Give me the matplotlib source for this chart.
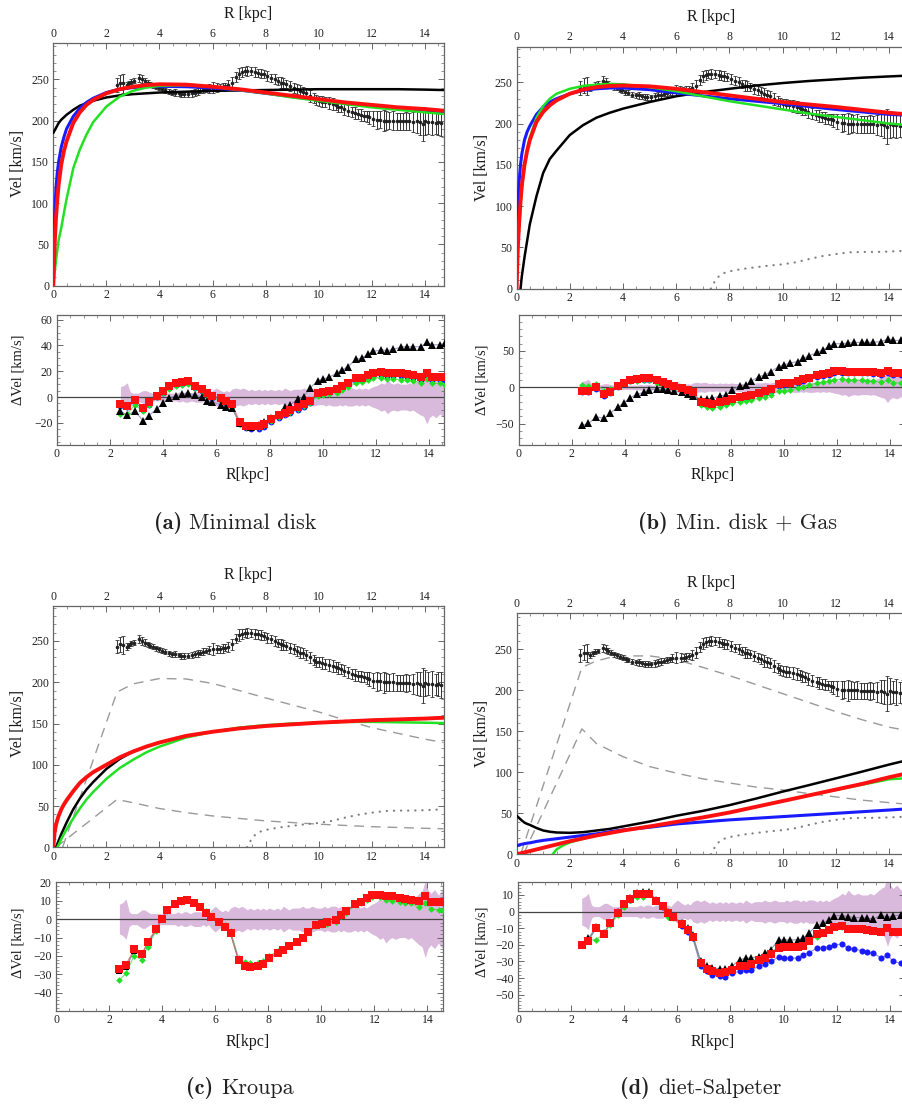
import numpy as np
import matplotlib
matplotlib.use("Agg")
import matplotlib.pyplot as plt
from matplotlib.ticker import MultipleLocator

nan = np.nan

# ---------------- observed rotation curve (R [kpc], V [km/s], error) ----------------
R_obs = [2.39, 2.52, 2.64, 2.76, 2.85, 2.94, 3.05, 3.24, 3.35, 3.45,
         3.56, 3.66, 3.77, 3.88, 3.98, 4.09, 4.20, 4.34, 4.48, 4.60,
         4.72, 4.82, 4.92, 5.06, 5.21, 5.32, 5.44, 5.54, 5.65, 5.75,
         5.85, 6.00, 6.16, 6.27, 6.38, 6.48, 6.58, 6.73, 6.88, 7.00,
         7.12, 7.21, 7.31, 7.45, 7.60, 7.70, 7.81, 7.92, 8.04, 8.20,
         8.35, 8.46, 8.57, 8.67, 8.78, 8.92, 9.07, 9.18, 9.30, 9.40,
         9.51, 9.66, 9.82, 9.91, 10.01, 10.12, 10.23, 10.38, 10.54, 10.64,
         10.74, 10.84, 10.95, 11.11, 11.27, 11.37, 11.48, 11.60, 11.71, 11.80,
         11.90, 12.05, 12.21, 12.32, 12.44, 12.55, 12.66, 12.80, 12.95, 13.05,
         13.16, 13.27, 13.39, 13.54, 13.69, 13.80, 13.92, 14.02, 14.13, 14.27,
         14.42, 14.51, 14.60]
V_obs = [243, 246, 245, 243, 245, 247, 248, 252, 250, 248,
         246, 244, 243, 241, 240, 238, 237, 235, 234, 234,
         233, 232, 232, 232, 233, 234, 235, 236, 237, 238,
         239, 240, 240, 240, 241, 242, 243, 246, 253, 257,
         259, 260, 260, 260, 259, 258, 257, 256, 254, 252,
         250, 248, 246, 245, 244, 242, 240, 238, 236, 235,
         233, 230, 227, 225, 224, 223, 222, 221, 220, 219,
         217, 216, 214, 212, 210, 209, 208, 207, 206, 205,
         204, 202, 201, 201, 200, 200, 200, 200, 199, 199,
         199, 199, 199, 198, 199, 198, 196, 199, 198, 198,
         197, 198, 197]
dV_obs = [8, 9, 11, 4, 3, 3, 3, 5, 5, 4,
          3, 3, 3, 3, 3, 3, 3, 3, 3, 4,
          3, 4, 4, 3, 4, 4, 4, 3, 4, 3,
          5, 7, 5, 4, 5, 4, 6, 7, 6, 7,
          6, 5, 6, 5, 6, 5, 6, 5, 6, 5,
          6, 5, 7, 6, 5, 6, 6, 6, 7, 6,
          6, 7, 6, 6, 6, 7, 6, 7, 7, 6,
          7, 6, 7, 7, 6, 7, 6, 7, 6, 7,
          8, 9, 11, 10, 13, 11, 10, 11, 10, 10,
          10, 11, 10, 12, 14, 15, 21, 16, 14, 16,
          13, 15, 16]

# ---------------- radii of the residual points ----------------
R_res = [2.39, 2.64, 2.94, 3.24, 3.45, 3.77, 3.98, 4.20, 4.48, 4.72,
         4.92, 5.21, 5.44, 5.65, 5.85, 6.16, 6.38, 6.58, 6.88, 7.12,
         7.31, 7.60, 7.81, 8.04, 8.35, 8.57, 8.78, 9.07, 9.30, 9.51,
         9.82, 10.01, 10.23, 10.54, 10.74, 10.95, 11.27, 11.48, 11.71, 11.90,
         12.21, 12.44, 12.66, 12.95, 13.16, 13.39, 13.69, 13.92, 14.13, 14.42,
         14.60]

# ---------------- fitted halo curves ----------------
R_fit = [0, 0.05, 0.1, 0.15, 0.2, 0.3, 0.4, 0.5, 0.75, 1.0,
         1.25, 1.5, 2.0, 2.5, 3.0, 3.5, 4.0, 5.0, 6.0, 7.0,
         8.0, 9.0, 10.0, 11.0, 12.0, 13.0, 14.0, 14.7]

# (a) minimal disk
vel_a_black = [185, 188, 191, 194, 197, 201, 204, 207, 213, 218,
               221, 224, 228, 230.5, 232, 233, 234, 235, 236, 236.5,
               237, 237.5, 238, 238, 238, 238, 237.5, 237]
vel_a_blue = [0, 85, 118, 137, 150, 168, 180, 190, 205, 215,
              222, 227, 234, 238, 240, 241, 241.5, 241, 239.5, 237,
              233, 229, 225, 221, 218, 215, 212, 211]
vel_a_green = [0, 16, 30, 43, 55, 70, 88, 105, 142, 165,
               183, 198, 217, 229, 236, 240, 242, 243, 241, 237,
               233, 228, 224, 220, 216, 213, 210, 208]
vel_a_red = [0, 50, 82, 104, 122, 147, 163, 175, 197, 210,
             219, 225, 233, 238, 241, 243, 244, 243.5, 241, 238,
             234, 230, 226, 222, 219, 216, 214, 212]

# (b) minimal disk + gas
vel_b_black = [nan, nan, nan, 0, 15, 38, 58, 78, 112, 140,
               157, 167, 186, 198, 207, 213, 218, 226, 233, 238,
               242, 246, 249, 251.5, 253.5, 255.5, 257, 258]
vel_b_blue = [0, 105, 130, 150, 163, 180, 190, 197, 211, 220,
              226, 230, 236, 240, 242, 243, 243, 241, 237, 233.5,
              230, 227, 224, 220.5, 217, 214, 211, 210]
vel_b_green = [0, 45, 75, 100, 120, 148, 168, 183, 207, 221,
               230, 236, 242, 245.5, 247, 248, 247.5, 244, 239, 233,
               227, 222, 217, 212, 208, 204, 200, 198]
vel_b_red = [0, 50, 80, 105, 125, 150, 167, 180, 202, 214,
             222, 228, 236, 241, 244, 245.5, 246, 245, 242, 238,
             234, 230, 226, 223, 220, 216.5, 213, 211]

# (c) Kroupa
vel_c_black = [nan, nan, 0, 4, 8, 16, 23, 30, 46, 59,
               70, 79, 95, 107, 116, 122, 127, 135, 140, 144,
               147, 149, 151, 152.5, 154, 155, 156, 157]
vel_c_green = [nan, nan, nan, 0, 3, 10, 16, 22, 35, 47,
               58, 67, 83, 96, 106, 115, 122, 133, 140, 145,
               148, 150, 151, 152, 152, 151.5, 151, 150.5]
vel_c_red = [0, 18, 27, 33, 38, 46, 52, 57, 68, 78,
             85, 91, 100, 109, 116, 122, 127, 135, 140, 144,
             147, 149, 151, 152.5, 154, 155, 156, 157]

# (d) diet-Salpeter
vel_d_black = [47, 45.5, 44, 42.5, 41, 38.5, 37, 35.8, 32, 29,
               27.5, 26.6, 26.2, 27, 29, 31, 34, 40, 47, 53,
               60, 68, 76.5, 84.5, 92.7, 101, 109.5, 115]
vel_d_blue = [10.6, 11, 11.5, 12, 12.3, 13, 13.6, 14, 15.7, 17,
              18, 19, 21, 23, 25, 27.5, 29.7, 33, 37, 39.5,
              42, 44, 46, 48, 50, 52, 54, 55.5]
vel_d_red = [0, 0.4, 0.8, 1.2, 1.6, 2.4, 3.2, 4, 6, 8,
             10, 12, 16, 19.5, 23, 26, 29, 34, 39.5, 45,
             51, 58, 65, 72, 79, 86, 94, 99]
R_d_green = [1.35, 1.5, 1.75, 2.0, 2.5, 3.0, 3.5, 4.0, 5.0, 6.0,
             7.0, 8.0, 9.0, 10.0, 11.0, 12.0, 13.0, 14.0, 14.7]
vel_d_green = [0, 6, 11, 14.5, 19, 23, 26, 29, 34, 39.5,
               45, 51, 58, 65, 72, 78.5, 85, 91.5, 93]

# ---------------- baryonic components ----------------
R_gas = [7.30, 7.45, 7.6, 7.8, 8.0, 8.5, 9.0, 9.5, 10.0, 10.5,
         11.0, 11.5, 12.0, 12.5, 13.0, 13.5, 14.0, 14.7]
V_gas = [0, 9, 15, 19, 21, 24, 26, 28, 29.5, 32,
         36, 39.5, 42, 44, 44.5, 44.5, 45, 46]

R_c_disk = [0.35, 2.4, 3.0, 4.0, 5.0, 6.0, 7.0, 8.0, 9.0, 10.0, 11.0, 12.0, 13.0, 14.0, 14.7]
V_c_disk = [0, 188, 198, 204.5, 204, 198.5, 190, 181, 172.5, 164, 154, 145, 138, 131, 127]
R_c_bulge = [0.1, 2.4, 3.0, 4.0, 5.0, 6.0, 7.0, 8.0, 9.0, 10.0, 11.0, 12.0, 13.0, 14.0, 14.7]
V_c_bulge = [0, 58, 54, 47, 42, 38, 35, 32, 30, 28, 26.5, 25, 24, 23, 22.5]

R_d_disk = [0.15, 2.45, 3.0, 3.5, 4.0, 5.0, 6.0, 7.0, 8.0, 9.0, 10.0, 11.0, 12.0, 13.0, 14.0, 14.7]
V_d_disk = [0, 228, 236, 240, 242, 242, 237.5, 228, 218, 207, 196, 185, 174, 164, 155, 151]
R_d_bulge = [0.25, 2.45, 3.0, 4.0, 5.0, 6.0, 7.0, 8.0, 9.0, 10.0, 11.0, 12.0, 13.0, 14.0, 14.7]
V_d_bulge = [0, 153, 135, 119, 107, 99, 92, 87, 82, 78.5, 74, 70, 66, 63, 61]

# ---------------- residuals (model - observed) ----------------
res_a_black = [-11, -14, -11, -18.5, -14.5, -9, -5, -1, 1, 2,
               3, 1.5, 0, -3, -4, -6, -7.5, -8.5, -20, -22.5,
               -23, -22, -19.5, -16.5, -14, -8, -6, -1.5, 0.3, 6.8,
               12.7, 13.8, 15.3, 18.4, 21, 23.6, 29.4, 30, 33.5, 35.3,
               36.6, 36, 37, 38.7, 39, 39, 39, 42.3, 40.5, 40.5,
               41.8]
res_a_blue = [-7, -8, -4, -10, -6, 0, 3.5, 7, 9, 10,
              10.5, 7, 5, 2, -0.5, -2.5, -4.5, -7, -21, -24,
              -24.5, -24.5, -23, -19, -16, -14, -12, -10, -7.5, -5,
              1.5, 2, 3, 4.5, 7, 9, 12.5, 13, 15, 17,
              17, 16.5, 16.5, 16, 15.5, 15, 13.5, 16.5, 13, 13,
              13]
res_a_green = [-13, -13, -6, -11, -6, 0, 3, 6.5, 8.5, 9.5,
               10, 7, 4.5, 1.5, -1, -3, -5, -7.5, -21, -23.5,
               -23.5, -23.5, -22, -18.5, -15.5, -13.5, -11.5, -9.5, -7, -4.5,
               1, 1.5, 2.5, 3.5, 5.5, 7.5, 11, 11.5, 13, 15,
               15, 14, 14, 13.5, 13, 12.5, 11, 14, 10.5, 10.5,
               9.5]
res_a_red = [-5.7, -7, -2.3, -8.8, -4.2, 1, 5, 8.6, 10.6, 11.7,
             12.2, 8.6, 6, 3.5, 1, -1, -3, -5.5, -19, -22.3,
             -22.6, -22.6, -21, -17.4, -14, -12.2, -10, -8, -5.5, -3,
             3.4, 3.6, 4.7, 6.5, 8.6, 11, 14.5, 15, 17, 19,
             19.2, 18.4, 18.4, 18.4, 18, 17, 15.8, 19, 15.3, 15.3,
             15.8]

res_b_black = [-52.5, -49.8, -40.5, -42.9, -35.9, -26.7, -21.2, -14.3, -9.7, -6.9,
               -3.7, -2.8, -2.8, -3.7, -4.6, -6.9, -9.2, -12, -16.6, -15.7,
               -15.2, -12, -10.6, -3.7, 1.8, 3.2, 8.8, 14.7, 17, 21.7,
               28.6, 30.9, 33.2, 35.5, 40, 43.3, 47.9, 51.6, 56.2, 60,
               60, 61, 61.8, 61.8, 61.8, 62, 63, 66.4, 64.5, 64.5,
               65]
res_b_blue = [-6, -7, -2, -12, -8, 0, 4.5, 8, 9.5, 10,
              10.5, 8, 5, 2, 0, -3, -5, -7.5, -22, -24.5,
              -25.5, -23, -21, -18.5, -16, -14.5, -13, -10, -7.5, -5,
              2, 3, 4, 6, 9, 11, 14.5, 16, 17.5, 20,
              20, 19, 19, 19, 19, 18, 17, 20, 17, 17,
              17]
res_b_green = [3, 2, 4.5, -5, -2, 2, 6, 8, 9, 9.5,
               9.5, 6, 3, 0, -2, -4, -6, -8, -24, -27,
               -28, -27, -25, -22, -20, -19, -18, -15, -13, -10,
               -5, -4.5, -4, -1.5, 1, 3.5, 5.5, 7, 8.5, 10,
               11, 10, 10, 9.5, 9, 8.5, 7, 9.5, 6.5, 6.5,
               6.5]
res_b_red = [-4.6, -4.6, 0, -9.7, -6, 1.8, 6.5, 10, 11.5, 12.4,
             12.9, 10, 6.9, 4, 1.8, -1.4, -3.7, -6, -19.8, -22,
             -23, -20.7, -18.4, -16, -13.8, -12, -10.6, -7.4, -5, -2.3,
             4.6, 5.5, 6.5, 8.8, 11.5, 13.4, 17, 18.4, 20.3, 23,
             23, 21.7, 21.7, 21.7, 21.7, 20.7, 19.4, 22.6, 19.4, 19.4,
             19.4]

res_c_black = [-28, -26, -17.5, -19.5, -13, -6, 0, 4.5, 8, 9.5,
               10.5, 8.5, 6.5, 3.5, 1, -2, -4.5, -8, -22.5, -25.5,
               -26, -25.8, -24.3, -21, -18.6, -16.8, -15, -12.6, -10.5, -7.2,
               -3.3, -2.7, -2, -0.9, 2.1, 4.1, 8.1, 9, 11.3, 13,
               13.1, 12.2, 12.1, 11.3, 10.8, 10.4, 9.5, 12.1, 9.2, 9,
               9.2]
res_c_green = [-33, -29.5, -20, -22, -15, -6.5, 0, 4.5, 8, 9.5,
               10.5, 8.5, 7, 4.5, 1.5, -1, -3, -6.5, -21, -23.5,
               -24, -24, -23, -20, -17.5, -16, -14.5, -12, -10, -7,
               -3.5, -3, -2.5, -1.5, 1.5, 3.5, 7.5, 8.5, 10.5, 12,
               12, 10.5, 10, 9.5, 9, 8.5, 6.5, 9, 5.5, 5,
               5]
res_c_red = [-27, -24.7, -16.4, -19.1, -12.6, -5.4, 0.2, 4.7, 8.3, 9.7,
             10.6, 8.6, 6.5, 3.4, 1.1, -1.8, -4.3, -7.6, -22.2, -25.2,
             -25.9, -25.6, -24.1, -20.9, -18.4, -16.6, -14.8, -12.4, -10.3, -7.0,
             -3.1, -2.5, -1.8, -0.7, 2.3, 4.3, 8.3, 9.2, 11.5, 13.2,
             13.3, 12.4, 12.3, 11.5, 11.0, 10.6, 9.7, 12.3, 9.4, 9.2,
             9.4]

res_d_black = [-20, -16, -9.5, -13, -7, -0.5, 4.5, 8, 11, 12,
               12, 7, 3.5, -0.5, -3, -7, -10, -14, -30, -32.6,
               -34, -34.4, -34.4, -33, -29, -28, -28, -27, -25, -23,
               -17, -17, -17, -17, -16, -13, -8, -7, -5, -2.4,
               -2.4, -3, -3.6, -3.6, -4, -4.4, -2, -3.4, -2.6, -2,
               -2]
res_d_blue = [-20, -17, -10, -13, -7, -1, 4, 7, 10, 10,
              10.5, 6.5, 3, -1, -3.5, -8.5, -12, -16, -33, -36,
              -38, -39, -39.4, -37, -36, -35.4, -35, -33, -31.6, -30,
              -27.4, -28, -28, -28, -26, -24.6, -22, -22, -21, -20,
              -19.5, -22, -22.6, -23.5, -24.5, -25, -28, -26, -30, -31,
              -31]
res_d_green = [-20, -17, -17, -13, -8, -2, 3, 7, 8.5, 9,
               11.5, 7, 4, -3, -4, -7, -11, -15, -31, -34,
               -35.5, -36, -36, -34.5, -31, -30.5, -30, -28, -26.5, -24.5,
               -21, -21, -21, -20.5, -19, -17, -15, -12, -10.5, -9,
               -9, -10, -10, -10.5, -11, -11.5, -12, -10, -12, -12,
               -12]
res_d_red = [-20, -17.6, -9.6, -13.4, -7, -0.6, 4.4, 7.6, 10.4, 10.6,
             10.6, 6.6, 3.4, -0.6, -3, -7.6, -11, -15.4, -31, -34.6,
             -36, -37, -36.6, -35, -33, -32.6, -31.6, -29, -27.6, -25.6,
             -21.6, -21.4, -21.4, -21.4, -20.4, -17.4, -13.4, -12.6, -11, -9.4,
             -8.8, -10.6, -10.4, -10.4, -11, -11.6, -12, -10, -12, -12,
             -12]

# ---------------- figure ----------------
W, H = 902, 1107
plt.rcParams['font.family'] = ['Liberation Serif', 'DejaVu Serif']
plt.rcParams['mathtext.fontset'] = 'cm'
fig = plt.figure(figsize=(W / 100, H / 100), dpi=100)

C_BLACK, C_BLUE, C_GREEN, C_RED = '#000000', '#1a1aff', '#22e022', '#ff1010'
FRAME = '#666666'
BAND = '#d9b9dc'


def axes_px(left, top, right, bottom):
    return fig.add_axes([left / W, 1 - bottom / H, (right - left) / W, (bottom - top) / H])


def ftext(x, y, s, ha='center', va='center', **kw):
    fig.text(x / W, 1 - y / H, s, ha=ha, va=va, **kw)


def frame(ax, ymajor, yminor, toplabels):
    ax.xaxis.set_major_locator(MultipleLocator(2))
    ax.xaxis.set_minor_locator(MultipleLocator(0.5))
    ax.yaxis.set_major_locator(MultipleLocator(ymajor))
    ax.yaxis.set_minor_locator(MultipleLocator(yminor))
    ax.tick_params(which='both', direction='in', top=True, right=True,
                   color=FRAME, labelcolor='#222222', labelsize=8.5)
    ax.tick_params(which='major', length=4, width=0.7, pad=3)
    ax.tick_params(which='minor', length=2.2, width=0.5)
    ax.tick_params(axis='x', labeltop=toplabels, pad=2.5)
    ax.tick_params(axis='y', pad=3)
    for sp in ax.spines.values():
        sp.set_color(FRAME)
        sp.set_linewidth(0.9)


def main_panel(box, ylim, curves, dashed=(), gas=False):
    ax = axes_px(*box)
    ax.set_xlim(0, 14.73)
    ax.set_ylim(*ylim)
    for R, V in dashed:
        ax.plot(R, V, color='#9a9a9a', lw=1.0, dashes=(7, 5), zorder=2)
    if gas:
        ax.plot(R_gas, V_gas, color='#808080', lw=1.6, linestyle=(0, (0.1, 3.1)),
                dash_capstyle='round', zorder=2)
    ax.errorbar(R_obs, V_obs, yerr=dV_obs, fmt='o', ms=1.6, color='#222222',
                ecolor='#333333', elinewidth=0.7, capsize=1.6, capthick=0.6, zorder=3)
    for R, V, col, lw in curves:
        ax.plot(R, V, color=col, lw=lw, solid_capstyle='round', zorder=4)
    frame(ax, 50, 10, True)
    return ax


def resid_panel(box, xmax, ylim, ymajor, yminor, series):
    ax = axes_px(*box)
    ax.set_xlim(0, xmax)
    ax.set_ylim(*ylim)
    err = np.array(dV_obs)
    ax.fill_between(R_obs, -err, err, color=BAND, lw=0, zorder=1)
    ax.axhline(0, color='#444444', lw=0.9, zorder=2)
    for vals, col, mk, ms, lcol in series:
        ax.plot(R_res, vals, color=lcol, lw=0.8, alpha=0.8, zorder=3)
        ax.plot(R_res, vals, linestyle='none', marker=mk, ms=ms, color=col,
                markeredgewidth=0, zorder=4)
    frame(ax, ymajor, yminor, False)
    return ax


LW = dict(black=1.8, blue=2.2, green=1.8, red=2.8)

# (a) Minimal disk
main_panel((53.3, 43.3, 444.3, 285.7), (0, 293.6),
           [(R_fit, vel_a_black, C_BLACK, LW['black']),
            (R_fit, vel_a_blue, C_BLUE, LW['blue']),
            (R_fit, vel_a_green, C_GREEN, LW['green']),
            (R_fit, vel_a_red, C_RED, LW['red'])])
resid_panel((57, 315, 444.3, 445), 14.58, (-37.2, 63.6), 20, 5,
            [(res_a_blue, C_BLUE, 'o', 4.2, '#7777ee'),
             (res_a_green, C_GREEN, 'D', 3.4, '#66cc66'),
             (res_a_black, C_BLACK, '^', 5.2, '#8888bb'),
             (res_a_red, C_RED, 's', 5.2, '#dd6666')])

# (b) Min. disk + Gas
main_panel((516.5, 46.7, 908.6, 288.7), (0, 293),
           [(R_fit, vel_b_black, C_BLACK, LW['black']),
            (R_fit, vel_b_blue, C_BLUE, LW['blue']),
            (R_fit, vel_b_green, C_GREEN, LW['green']),
            (R_fit, vel_b_red, C_RED, LW['red'])], gas=True)
resid_panel((518.5, 315, 905, 445), 14.58, (-79.4, 99.5), 50, 10,
            [(res_b_blue, C_BLUE, 'o', 4.2, '#7777ee'),
             (res_b_green, C_GREEN, 'D', 3.4, '#66cc66'),
             (res_b_black, C_BLACK, '^', 5.2, '#8888bb'),
             (res_b_red, C_RED, 's', 5.2, '#dd6666')])

# (c) Kroupa
main_panel((53.3, 606, 444.3, 847.3), (0, 292.4),
           [(R_fit, vel_c_black, C_BLACK, LW['black']),
            (R_fit, vel_c_green, C_GREEN, LW['green']),
            (R_fit, vel_c_red, C_RED, LW['red'])],
           dashed=[(R_c_disk, V_c_disk), (R_c_bulge, V_c_bulge)], gas=True)
resid_panel((56, 881.7, 443.3, 1010.7), 14.6, (-49.7, 20.3), 10, 2,
            [(res_c_green, C_GREEN, 'D', 3.4, '#66cc66'),
             (res_c_black, C_BLACK, 's', 4.6, '#666666'),
             (res_c_red, C_RED, 's', 5.2, '#cc6677')])

# (d) diet-Salpeter
main_panel((516.7, 613.3, 908.6, 854.3), (0, 294),
           [(R_fit, vel_d_black, C_BLACK, LW['black']),
            (R_fit, vel_d_blue, C_BLUE, LW['blue']),
            (R_d_green, vel_d_green, C_GREEN, LW['green']),
            (R_fit, vel_d_red, C_RED, LW['red'])],
           dashed=[(R_d_disk, V_d_disk), (R_d_bulge, V_d_bulge)], gas=True)
resid_panel((518.3, 881.7, 905, 1010.7), 14.58, (-59.6, 18), 10, 2,
            [(res_d_blue, C_BLUE, 'o', 4.4, '#7777ee'),
             (res_d_green, C_GREEN, 'D', 3.4, '#66cc66'),
             (res_d_black, C_BLACK, '^', 5.2, '#777799'),
             (res_d_red, C_RED, 's', 5.2, '#888888')])

# ---------------- labels ----------------
LAB = dict(fontsize=11.5, color='#1a1a1a')
for x, y in [(248, 14), (711, 17), (248, 575), (711, 583)]:
    ftext(x, y, 'R [kpc]', **LAB)
for x, y in [(18, 163), (482, 167), (18, 723), (482, 733)]:
    ftext(x, y, 'Vel [km/s]', rotation=90, **LAB)
for x, y in [(18, 370), (482, 380), (18, 943), (482, 942)]:
    ftext(x, y, '\u0394Vel [km/s]', rotation=90, fontsize=10.5, color='#1a1a1a')
for x, y in [(248, 475), (713, 475), (248, 1042), (713, 1042)]:
    ftext(x, y, 'R[kpc]', **LAB)

# sub-figure captions: bold tag followed by the roman title
CAP_BOLD = dict(fontsize=16, color='#222222', family=['cmb10', 'DejaVu Serif'])
CAP_ROMAN = dict(fontsize=16, color='#222222', family=['cmr10', 'DejaVu Serif'])
for tag, title, x_tag, x_title, y_base in [
        ('(a)', 'Minimal disk', 182, 189, 529),
        ('(b)', 'Min. disk + Gas', 668, 676, 529),
        ('(c)', 'Kroupa', 213, 221, 1094),
        ('(d)', 'diet-Salpeter', 650, 658, 1094)]:
    ftext(x_tag, y_base, tag, ha='right', va='baseline', **CAP_BOLD)
    ftext(x_title, y_base, title, ha='left', va='baseline', **CAP_ROMAN)

fig.savefig('out.png', dpi=100)
